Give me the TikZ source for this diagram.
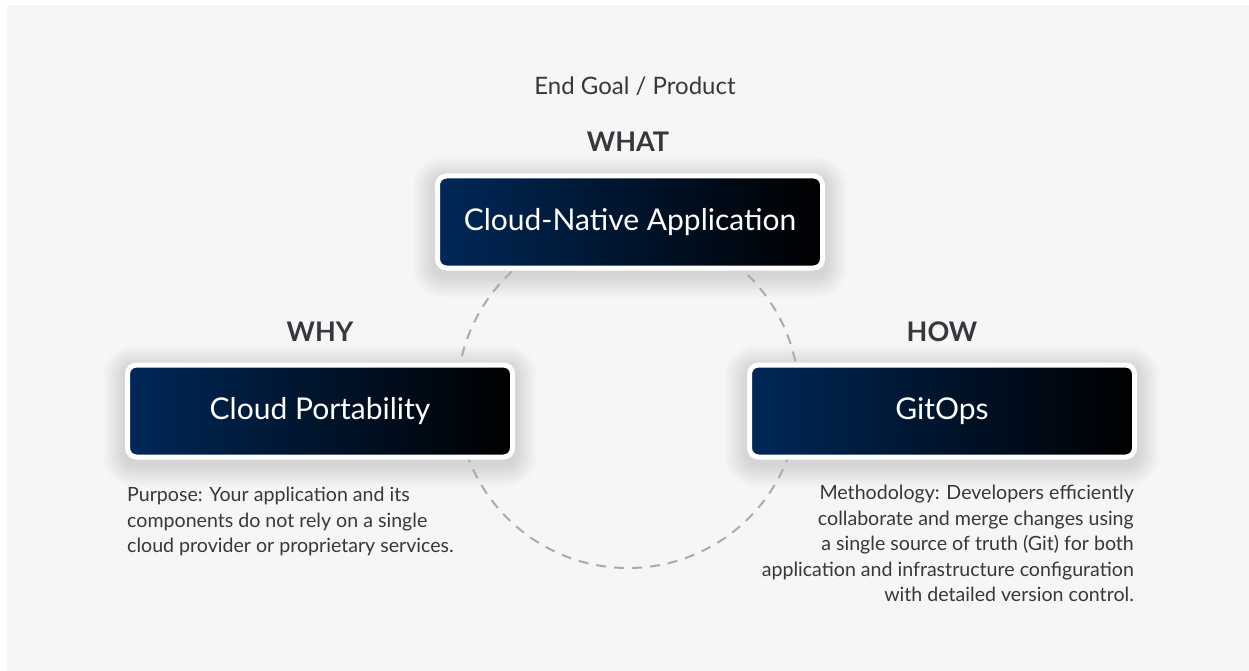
\documentclass[tikz,border=0pt]{standalone}
\usepackage{fontspec}
\setmainfont{Lato}
\usepackage{tikz}
\usetikzlibrary{positioning, backgrounds, calc}
\definecolor{pagegray}{HTML}{F6F6F6}
\definecolor{boxnavy}{RGB}{0,40,88}
\definecolor{inkgray}{HTML}{35383C}
\definecolor{loopgray}{HTML}{ABABAB}

\begin{document}
\begin{tikzpicture}[x=1pt, y=-1pt,
  box/.style={draw=white, line width=5pt, rounded corners=9pt, left color=boxnavy, right color=black,
    minimum width=385pt, minimum height=92pt, text=white, font=\fontsize{30}{34}\selectfont},
  head/.style={text=inkgray, font=\fontsize{27}{30}\selectfont\bfseries, inner sep=0pt},
  note/.style={text=inkgray, font=\fontsize{19.6}{25.5}\selectfont, inner sep=0pt},
]
  \useasboundingbox (0,0) rectangle (1249,671);

  \node[box] (what) at (630,222) {Cloud-Native Application};
  \node[box] (why) at (320,411) {Cloud Portability};
  \node[box] (how) at (942,411) {GitOps};

  \node[note, font=\fontsize{24}{28}\selectfont, anchor=base] (goal) at (635,95) {End Goal / Product};
  \node[head, anchor=base] (whatlbl) at (628,152) {WHAT};
  \node[head, anchor=base] (whylbl) at (320,341) {WHY};
  \node[head, anchor=base] (howlbl) at (942,341) {HOW};

  \node[note, align=left, anchor=north west] (purpose) at (127,487)
    {Purpose: Your application and its\\components do not rely on a single\\cloud provider or proprietary services.};
  \node[note, align=right, anchor=north east] (method) at (1134,485)
    {Methodology: Developers efficiently\\collaborate and merge changes using\\a single source of truth (Git) for both\\application and infrastructure configuration\\with detailed version control.};

  \begin{scope}[on background layer]
    % page
    \fill[white] (0,0) rectangle (1249,671);
    \fill[pagegray] (7,5) rectangle (1249,671);
    % soft shadows
    \foreach \b in {what, why, how}
      \foreach \k in {2,4,...,22}
        \fill[black, opacity=0.011, rounded corners=9pt+\k pt]
          ($(\b.south west)+(-\k,\k+5)$) rectangle ($(\b.north east)+(\k,-\k+5)$);
    % the loop behind the boxes
    \node[circle, draw=loopgray, line width=2pt, dash pattern=on 10pt off 8pt, minimum size=342pt] (loop) at (628,397) {};
  \end{scope}
\end{tikzpicture}
\end{document}
